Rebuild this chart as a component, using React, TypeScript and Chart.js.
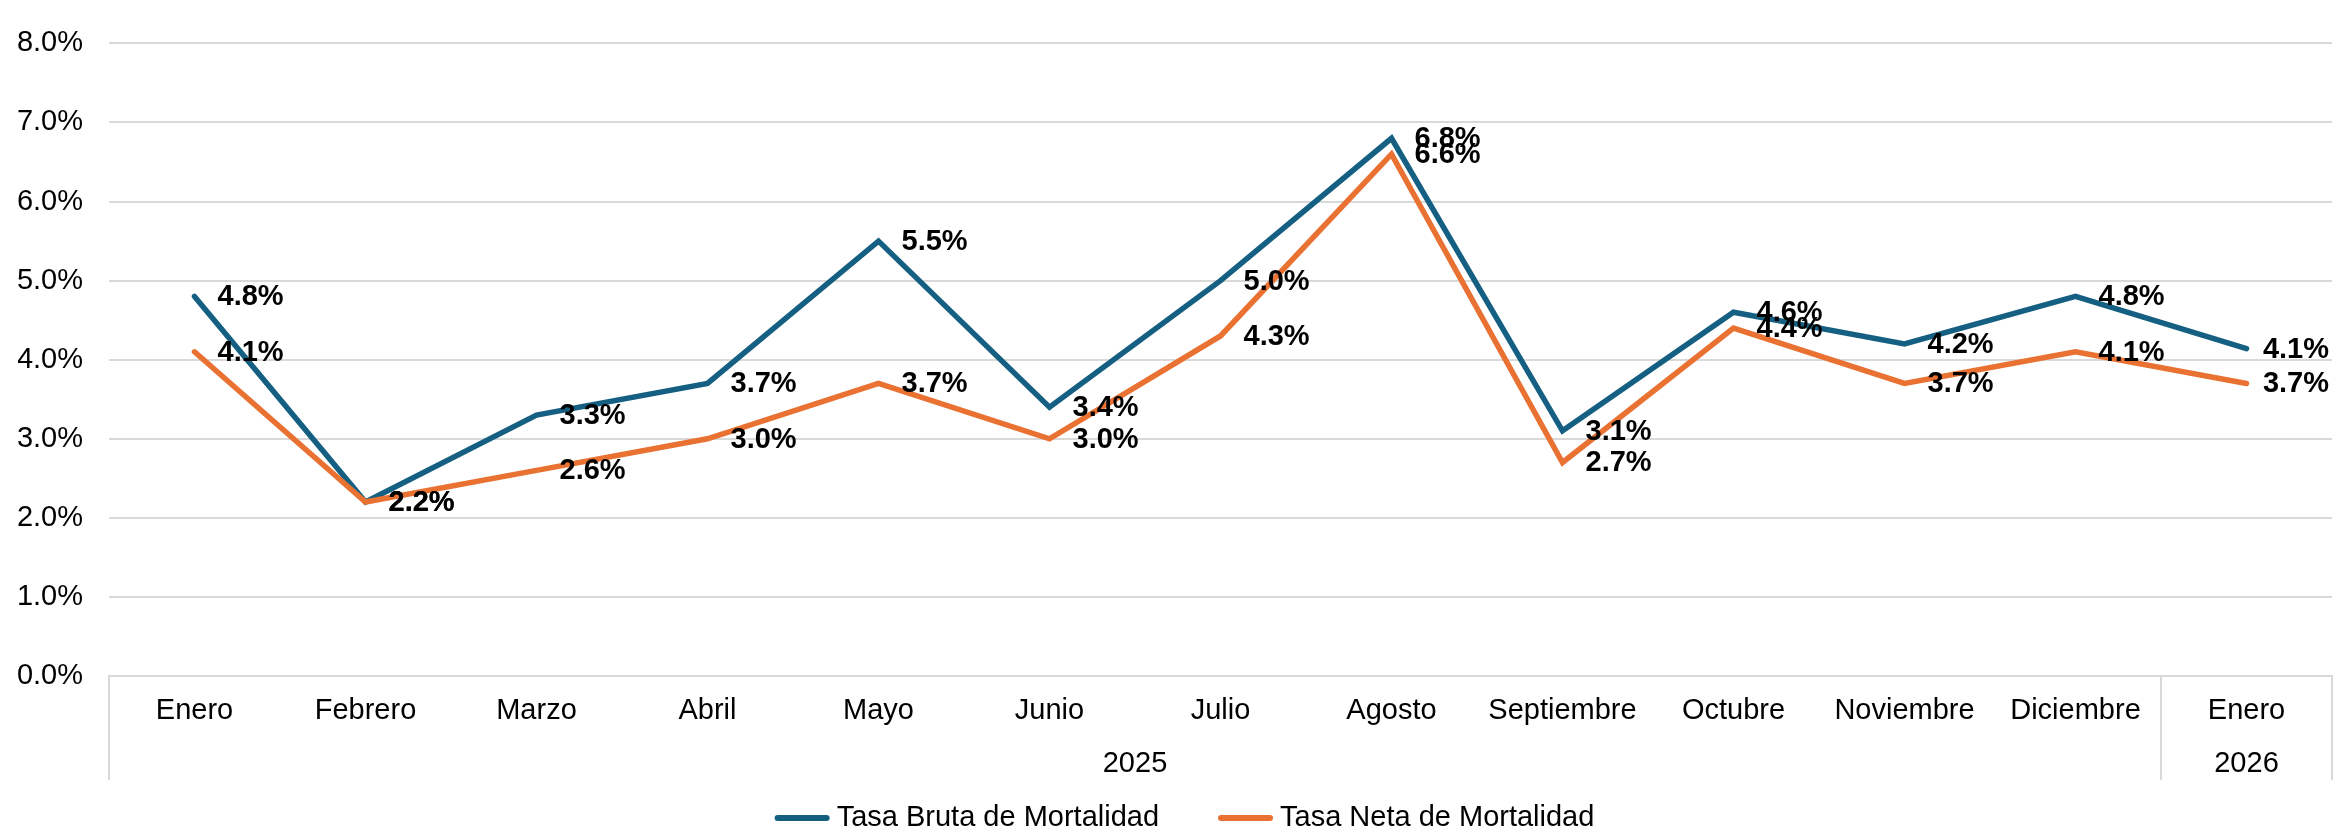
import { useEffect, useRef } from 'react';
import { Chart, registerables } from 'chart.js';

Chart.register(...registerables);

const months = ['Enero', 'Febrero', 'Marzo', 'Abril', 'Mayo', 'Junio', 'Julio', 'Agosto', 'Septiembre', 'Octubre', 'Noviembre', 'Diciembre', 'Enero'];
const years = ['2025', '2026'];
const yearSpans = [12, 1];
const tasaBruta = [4.8, 2.2, 3.3, 3.7, 5.5, 3.4, 5.0, 6.8, 3.1, 4.6, 4.2, 4.8, 4.14];
const tasaNeta = [4.1, 2.2, 2.6, 3.0, 3.7, 3.0, 4.3, 6.6, 2.7, 4.4, 3.7, 4.1, 3.7];
const seriesNames = ['Tasa Bruta de Mortalidad', 'Tasa Neta de Mortalidad'];
const seriesColors = ['#156082', '#E97132'];
const yMin = 0;
const yMax = 8;
const yStep = 1;

const FONT = '"Liberation Sans", Arial, Helvetica, sans-serif';
const GRID = '#D9D9D9';

const W = 2341;
const H = 831;

const gridPlugin = {
  id: 'plotGrid',
  beforeDatasetsDraw(chart: any) {
    const ctx = chart.ctx;
    const ys = chart.scales.y;
    const { left, right } = chart.chartArea;
    ctx.save();
    ctx.strokeStyle = GRID;
    ctx.lineWidth = 2;
    ys.ticks.forEach((t: any) => {
      const y = Math.round(ys.getPixelForValue(t.value));
      ctx.beginPath();
      ctx.moveTo(left, y);
      ctx.lineTo(right, y);
      ctx.stroke();
    });
    ctx.restore();
  },
};

const dataLabelPlugin = {
  id: 'dataLabels',
  afterDatasetsDraw(chart: any) {
    const ctx = chart.ctx;
    ctx.save();
    ctx.font = `bold 29px ${FONT}`;
    ctx.fillStyle = '#000';
    ctx.textAlign = 'left';
    ctx.textBaseline = 'middle';
    chart.data.datasets.forEach((ds: any, di: number) => {
      const meta = chart.getDatasetMeta(di);
      meta.data.forEach((pt: any, i: number) => {
        const txt = `${Number(ds.data[i]).toFixed(1)}%`;
        const w = ctx.measureText(txt).width;
        let x = pt.x + 23;
        const maxX = chart.chartArea.right - 3 - w;
        if (x > maxX) x = maxX;
        ctx.fillText(txt, x, pt.y + 1);
      });
    });
    ctx.restore();
  },
};

const groupAxisPlugin = {
  id: 'groupAxis',
  afterDraw(chart: any) {
    const ctx = chart.ctx;
    const xs = chart.scales.x;
    const top = xs.top;
    const bottom = top + 104;
    ctx.save();
    ctx.strokeStyle = GRID;
    ctx.lineWidth = 2;
    const bounds: number[] = [xs.left];
    let cum = 0;
    yearSpans.forEach((n, gi) => {
      cum += n;
      if (gi < yearSpans.length - 1) {
        bounds.push((xs.getPixelForValue(cum - 1) + xs.getPixelForValue(cum)) / 2);
      }
    });
    bounds.push(xs.right);
    bounds.forEach((bx) => {
      ctx.beginPath();
      ctx.moveTo(bx, top);
      ctx.lineTo(bx, bottom);
      ctx.stroke();
    });
    ctx.font = `29px ${FONT}`;
    ctx.fillStyle = '#000';
    ctx.textAlign = 'center';
    ctx.textBaseline = 'middle';
    years.forEach((y, gi) => {
      const cx = (bounds[gi] + bounds[gi + 1]) / 2;
      ctx.fillText(y, cx, top + 88);
    });

    // legend
    const lineW = 55;
    const gapLT = 7;
    const gapItems = 59;
    const widths = chart.data.datasets.map((ds: any) => ctx.measureText(ds.label).width);
    const total = widths.reduce((a: number, w: number) => a + lineW + gapLT + w, 0) + gapItems * (widths.length - 1);
    let x = chart.width / 2 + 14 - total / 2;
    const ly = chart.height - 13;
    ctx.textAlign = 'left';
    chart.data.datasets.forEach((ds: any, di: number) => {
      ctx.strokeStyle = ds.borderColor;
      ctx.lineWidth = 6;
      ctx.lineCap = 'round';
      ctx.beginPath();
      ctx.moveTo(x + 3, ly);
      ctx.lineTo(x + lineW - 3, ly);
      ctx.stroke();
      ctx.fillStyle = '#000';
      ctx.fillText(ds.label, x + lineW + gapLT, ly);
      x += lineW + gapLT + widths[di] + gapItems;
    });
    ctx.restore();
  },
};

export default function App() {
  const ref = useRef<HTMLCanvasElement>(null);
  useEffect(() => {
    if (!ref.current) return;
    const chart = new Chart(ref.current, {
      type: 'line',
      data: {
        labels: months,
        datasets: [
          {
            label: seriesNames[0],
            data: tasaBruta,
            borderColor: seriesColors[0],
            backgroundColor: seriesColors[0],
            borderWidth: 5.5,
            pointRadius: 0,
            borderCapStyle: 'round',
            tension: 0,
            order: 1,
          },
          {
            label: seriesNames[1],
            data: tasaNeta,
            borderColor: seriesColors[1],
            backgroundColor: seriesColors[1],
            borderWidth: 5.5,
            pointRadius: 0,
            borderCapStyle: 'round',
            tension: 0,
            order: 0,
          },
        ],
      },
      options: {
        animation: false,
        responsive: false,
        devicePixelRatio: 1,
        layout: { padding: { left: 18, top: 27, right: 9, bottom: 51 } },
        plugins: {
          legend: { display: false },
          tooltip: { enabled: false },
        },
        scales: {
          x: {
            offset: true,
            grid: { display: false, drawTicks: false },
            border: { display: true, color: GRID, width: 2 },
            ticks: {
              color: '#000',
              font: { family: FONT, size: 29 },
              padding: 18,
              maxRotation: 0,
              autoSkip: false,
            },
            afterFit: (s: any) => {
              s.height = 104;
            },
          },
          y: {
            min: yMin,
            max: yMax,
            grid: { display: false, drawTicks: false },
            border: { display: false },
            ticks: {
              stepSize: yStep,
              color: '#000',
              font: { family: FONT, size: 29 },
              padding: 26,
              callback: (v: any) => `${Number(v).toFixed(1)}%`,
            },
            afterFit: (s: any) => {
              s.width = 91;
            },
          },
        },
      },
      plugins: [gridPlugin, dataLabelPlugin, groupAxisPlugin],
    });
    return () => chart.destroy();
  }, []);
  return (
    <div style={{ position: 'fixed', left: 0, top: 0, width: W, height: H, background: '#fff' }}>
      <canvas ref={ref} width={W} height={H} style={{ display: 'block', width: W, height: H }} />
    </div>
  );
}
